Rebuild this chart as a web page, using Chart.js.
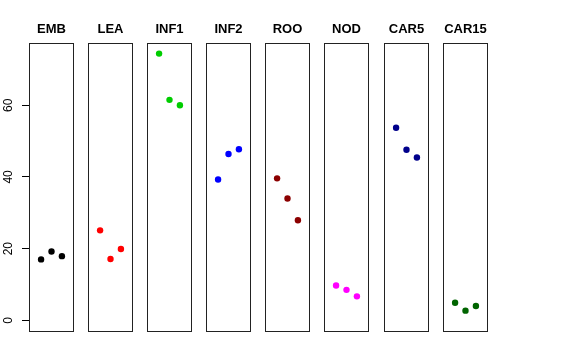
<!DOCTYPE html>
<html>
<head>
<meta charset="utf-8">
<script src="https://cdn.jsdelivr.net/npm/chart.js@4/dist/chart.umd.min.js"></script>
<style>
  body { margin: 0; background: #fff; }
  #wrap { position: relative; width: 576px; height: 360px; background: #fff; overflow: hidden; }
  #wrap canvas { position: absolute; top: 0; }
</style>
</head>
<body>
<div id="wrap"></div>
<script>
// panel names, in plot order
var categories = ["EMB", "LEA", "INF1", "INF2", "ROO", "NOD", "CAR5", "CAR15"];
var positions = [1, 2, 3];

// three values per panel
var emb   = [17.0, 19.2, 17.9];
var lea   = [25.1, 17.1, 19.9];
var inf1  = [74.4, 61.5, 60.0];
var inf2  = [39.3, 46.4, 47.7];
var roo   = [39.6, 34.0, 27.9];
var nod   = [9.7, 8.5, 6.7];
var car5  = [53.7, 47.6, 45.4];
var car15 = [4.9, 2.7, 4.0];

var yTicks = [0, 20, 40, 60];

var series = [emb, lea, inf1, inf2, roo, nod, car5, car15];
var colors = ["#000000", "#ff0000", "#00cd00", "#0000ff", "#8b0000", "#ff00ff", "#00008b", "#006400"];

var panelLeft = [29, 88, 147, 206, 265, 324, 384, 443];
var panelWidth = 45;
var side = 6;

// R style box round each panel
var boxPlugin = {
    id: "box",
    afterDraw: function (chart) {
        var a = chart.chartArea;
        var ctx = chart.ctx;
        ctx.save();
        ctx.strokeStyle = "#222";
        ctx.lineWidth = 1;
        ctx.strokeRect(Math.round(a.left) + 0.5, Math.round(a.top) + 0.5,
            Math.round(a.right - a.left) - 1, Math.round(a.bottom - a.top));
        ctx.restore();
    }
};

function makePanel (i) {
    var first = (i === 0);
    var canvas = document.createElement("canvas");
    // first canvas is symmetric round its panel so the title stays centred
    var left = first ? 0 : panelLeft[i] - side;
    var width = first ? 2 * panelLeft[0] + panelWidth : panelWidth + 2 * side;
    canvas.width = width;
    canvas.height = 360;
    canvas.style.left = left + "px";
    canvas.style.width = width + "px";
    canvas.style.height = "360px";
    document.getElementById("wrap").appendChild(canvas);

    var pts = positions.map(function (x, j) {
        return {x: x, y: series[i][j]};
    });

    var scales = {
        x: {
            type: "linear",
            display: false,
            min: -0.16,
            max: 4.16
        },
        y: {
            type: "linear",
            display: first,
            min: -2.97,
            max: 77.27,
            afterBuildTicks: function (scale) {
                scale.ticks = yTicks.map(function (v) { return {value: v}; });
            },
            border: {display: false},
            grid: {
                display: true,
                drawOnChartArea: false,
                drawTicks: true,
                tickLength: 7,
                color: "#000",
                lineWidth: 1
            },
            ticks: {
                color: "#000",
                font: {family: "Liberation Sans, Arial, sans-serif", size: 12},
                padding: 7,
                crossAlign: "center",
                minRotation: 90,
                maxRotation: 90
            }
        }
    };
    if (first) {
        scales.y.afterFit = function (scale) { scale.width = panelLeft[0]; };
        // empty right axis, mirrors the left one so the title is centred on the panel
        scales.yr = {
            type: "linear",
            position: "right",
            display: true,
            min: -2.97,
            max: 77.27,
            border: {display: false},
            grid: {display: false},
            ticks: {display: false},
            afterFit: function (scale) { scale.width = panelLeft[0]; }
        };
    }

    new Chart(canvas.getContext("2d"), {
        type: "scatter",
        data: {
            datasets: [{
                data: pts,
                pointRadius: 3.2,
                pointHoverRadius: 3.2,
                pointBackgroundColor: colors[i],
                pointBorderColor: colors[i],
                pointBorderWidth: 0
            }]
        },
        options: {
            responsive: false,
            animation: false,
            events: [],
            layout: {
                padding: {left: first ? 0 : side, right: first ? 0 : side, top: 21.7, bottom: 29}
            },
            plugins: {
                legend: {display: false},
                tooltip: {enabled: false},
                title: {
                    display: true,
                    text: categories[i],
                    color: "#000",
                    font: {family: "Liberation Sans, Arial, sans-serif", size: 13, weight: "bold", lineHeight: 1.2},
                    padding: {top: 0, bottom: 6}
                }
            },
            scales: scales
        },
        plugins: [boxPlugin]
    });
}

for (var i = 0; i < categories.length; i++) {
    makePanel(i);
}
</script>
</body>
</html>
